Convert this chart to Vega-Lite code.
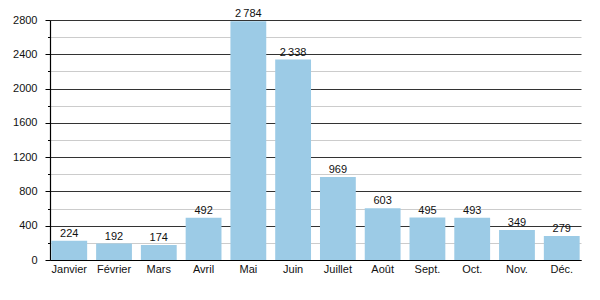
{
  "$schema": "https://vega.github.io/schema/vega-lite/v6.json",
  "width": 531,
  "height": 240,
  "autosize": "none",
  "padding": {"left": 50, "top": 20, "right": 19, "bottom": 40},
  "background": "white",
  "config": {
    "locale": {"number": {"decimal": ",", "thousands": "\u2009", "grouping": [3], "currency": ["", " €"]}},
    "view": {"stroke": null},
    "font": "Liberation Sans"
  },
  "data": {
    "values": [
      {"mois": "Janvier", "n": 224},
      {"mois": "Février", "n": 192},
      {"mois": "Mars", "n": 174},
      {"mois": "Avril", "n": 492},
      {"mois": "Mai", "n": 2784},
      {"mois": "Juin", "n": 2338},
      {"mois": "Juillet", "n": 969},
      {"mois": "Août", "n": 603},
      {"mois": "Sept.", "n": 495},
      {"mois": "Oct.", "n": 493},
      {"mois": "Nov.", "n": 349},
      {"mois": "Déc.", "n": 279}
    ]
  },
  "encoding": {
    "x": {
      "field": "mois",
      "type": "nominal",
      "sort": null,
      "scale": {"paddingInner": 0.2, "paddingOuter": 0.03},
      "axis": {
        "title": null,
        "labelAngle": 0,
        "ticks": false,
        "tickSize": 0,
        "labelPadding": 3,
        "labelFontSize": 11,
        "labelColor": "#111",
        "domainColor": "#000",
        "domainWidth": 1.2
      }
    },
    "y": {
      "field": "n",
      "type": "quantitative",
      "scale": {"domain": [0, 2800], "nice": false},
      "axis": {
        "title": null,
        "values": [0, 200, 400, 600, 800, 1000, 1200, 1400, 1600, 1800, 2000, 2200, 2400, 2600, 2800],
        "labelExpr": "datum.value % 400 === 0 ? format(datum.value, 'd') : ''",
        "tickSize": {"condition": {"test": "datum.value % 400 === 0", "value": 5}, "value": 2.5},
        "gridColor": {"condition": {"test": "datum.value % 400 === 0", "value": "#333333"}, "value": "#cccccc"},
        "tickColor": "#000",
        "domainColor": "#000",
        "domainWidth": 1.2,
        "labelPadding": 8,
        "labelFontSize": 11,
        "labelColor": "#111"
      }
    }
  },
  "layer": [
    {"mark": {"type": "bar", "color": "#9ccbe6"}},
    {
      "mark": {"type": "text", "dy": -4, "baseline": "alphabetic", "fontSize": 11, "color": "#111"},
      "encoding": {"text": {"field": "n", "type": "quantitative", "format": ","}}
    }
  ]
}
